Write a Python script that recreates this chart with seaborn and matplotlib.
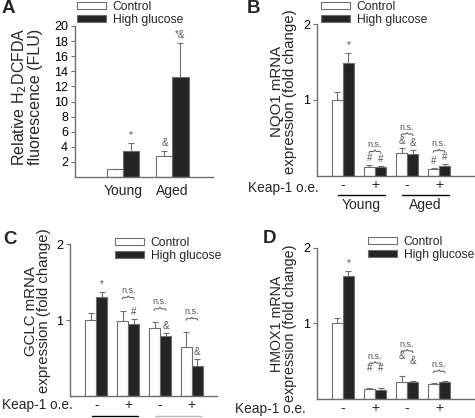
import numpy as np
import pandas as pd
import matplotlib
matplotlib.use("Agg")
import matplotlib.pyplot as plt
import seaborn as sns

# ---- data ----
treatments = ["Control", "High glucose"]

# A: H2DCFDA fluorescence
a_groups = ["Young", "Aged"]
a_control = [1.0, 2.82]
a_control_err = [0.12, 0.62]
a_glucose = [3.5, 13.3]
a_glucose_err = [1.05, 4.4]
a_ctrl_marks = ["", "&"]
a_hg_marks = ["*", "*&"]

# B/C/D: Keap-1 overexpression groups
groups = ["Young -", "Young +", "Aged -", "Aged +"]
keap_labels = ["-", "+", "-", "+"]

b_control = [1.0, 0.12, 0.30, 0.09]
b_control_err = [0.10, 0.02, 0.07, 0.01]
b_glucose = [1.49, 0.12, 0.28, 0.13]
b_glucose_err = [0.13, 0.01, 0.06, 0.02]
b_ctrl_marks = ["", "#", "&", "#"]
b_hg_marks = ["*", "#", "&", "#"]

c_control = [1.0, 0.99, 0.90, 0.65]
c_control_err = [0.10, 0.13, 0.07, 0.19]
c_glucose = [1.30, 0.95, 0.79, 0.39]
c_glucose_err = [0.07, 0.07, 0.04, 0.10]
c_ctrl_marks = ["", "", "", ""]
c_hg_marks = ["*", "#", "&", "&"]

d_control = [1.0, 0.13, 0.23, 0.20]
d_control_err = [0.07, 0.02, 0.08, 0.01]
d_glucose = [1.62, 0.12, 0.23, 0.22]
d_glucose_err = [0.07, 0.02, 0.01, 0.02]
d_ctrl_marks = ["", "#", "&", ""]
d_hg_marks = ["*", "#", "&", ""]

ns_flags = [False, True, True, True]

W, H = 475, 418
sns.set_style("ticks")
plt.rcParams["font.family"] = ["Liberation Sans", "DejaVu Sans"]

GRAY = "#6e6e6e"
DARK = "#242424"
ANN = "#555555"

fig = plt.figure(figsize=(W / 100, H / 100), dpi=100)


def px_axes(left, top, right, bottom):
    return fig.add_axes([left / W, 1 - bottom / H, (right - left) / W, (bottom - top) / H])


def px_to_data(ax, dx, dy):
    inv = ax.transData.inverted()
    x0, y0 = inv.transform((0, 0))
    x1, y1 = inv.transform((dx, dy))
    return x1 - x0, y1 - y0


def bar_panel(ax, cats, ctrl, ctrl_err, hg, hg_err, width, xlim, ylim, yticks):
    df = pd.DataFrame({
        "group": cats * 2,
        "treatment": [treatments[0]] * len(cats) + [treatments[1]] * len(cats),
        "value": list(ctrl) + list(hg),
    })
    sns.barplot(data=df, x="group", y="value", hue="treatment", order=cats,
                hue_order=treatments, palette={"Control": "white", "High glucose": DARK},
                edgecolor=GRAY, linewidth=0.8, width=width, errorbar=None, ax=ax)
    leg = ax.get_legend()
    handles = leg.legend_handles
    leg.remove()
    bars = list(ax.containers[:2])
    ax.set_xlim(*xlim)
    ax.set_ylim(*ylim)
    # error bars, upper half only
    for cont, errs in zip(bars, [ctrl_err, hg_err]):
        for bar, e in zip(cont, errs):
            x = bar.get_x() + bar.get_width() / 2
            top = bar.get_height()
            eb = ax.errorbar(x, top, yerr=[[0], [e]], color=GRAY, lw=0.8,
                             capsize=2.2, capthick=0.8, zorder=1)
            eb[1][0].set_visible(False)
    sns.despine(ax=ax)
    for s in ["left", "bottom"]:
        ax.spines[s].set_color(GRAY)
        ax.spines[s].set_linewidth(1.0)
    ax.set_yticks(yticks)
    ax.tick_params(axis="y", colors=GRAY, labelcolor="black", labelsize=9,
                   length=3, width=0.8, pad=2)
    ax.set_xlabel("")
    return handles, bars


def annotate(ax, bars, ctrl, ctrl_err, hg, hg_err, ctrl_marks, hg_marks, ns, mark_off, brace_gap):
    dx, dy = px_to_data(ax, 1, 1)
    tops = [[v + e for v, e in zip(ctrl, ctrl_err)], [v + e for v, e in zip(hg, hg_err)]]
    marks = [ctrl_marks, hg_marks]
    for k, cont in enumerate(bars):
        for i, bar in enumerate(cont):
            m = marks[k][i]
            if m:
                off = 3 if m.startswith("*") else mark_off
                ax.text(bar.get_x() + bar.get_width() / 2, tops[k][i] + off * dy, m,
                        ha="center", va="bottom", fontsize=7, color=ANN)
    for i, flag in enumerate(ns):
        if not flag:
            continue
        has_mark = bool(ctrl_marks[i] or hg_marks[i])
        base = max(tops[0][i], tops[1][i])
        yb = base + (brace_gap + (mark_off if has_mark else 0)) * dy
        hw = 6 * dx
        h = 3 * dy
        xs = np.array([-1, -0.85, -0.2, 0, 0.2, 0.85, 1]) * hw + i
        ys = np.array([0, 0.55, 0.55, 1, 0.55, 0.55, 0]) * h + yb
        ax.plot(xs, ys, color=ANN, lw=0.7)
        ax.text(i, yb + h + 1 * dy, "n.s.", ha="center", va="bottom",
                fontsize=6.5, color=ANN)


def keap_row(ax, axes_h_px, line_colors, group_text, line_px, text_px):
    ax.set_xticks(range(len(groups)))
    ax.set_xticklabels(keap_labels, fontsize=10)
    ax.tick_params(axis="x", length=0, pad=1.5)
    tr = ax.get_xaxis_transform()
    for j, col in enumerate(line_colors):
        x0, x1 = 2 * j - 0.15, 2 * j + 1.3
        ax.plot([x0, x1], [-line_px / axes_h_px] * 2, color=col, lw=1.0,
                transform=tr, clip_on=False)
        if group_text:
            ax.text((x0 + x1) / 2, -text_px / axes_h_px, group_text[j],
                    transform=tr, ha="center", va="center", fontsize=10)


def place_legend(ax, handles, x_px, y_px):
    ax.legend(handles, treatments, loc="upper left", bbox_to_anchor=(x_px / W, 1 - y_px / H),
              bbox_transform=fig.transFigure, frameon=False, fontsize=8.7,
              borderpad=0, borderaxespad=0, handlelength=2.4, handleheight=0.45,
              handletextpad=0.55, labelspacing=0.08)


# ---- Panel A ----
axA = px_axes(75, 26, 213, 177)
hA, bA = bar_panel(axA, a_groups, a_control, a_control_err, a_glucose, a_glucose_err,
                   0.65, (-0.97, 1.82), (0, 20), range(2, 21, 2))
axA.tick_params(axis="x", length=0, labelsize=10, pad=5)
axA.set_ylabel("Relative H$_2$DCFDA\nfluorescence (FLU)", fontsize=11.5, linespacing=0.9)
axA.yaxis.set_label_coords((43 - 75) / 138, 0.53)
annotate(axA, bA, a_control, a_control_err, a_glucose, a_glucose_err,
         a_ctrl_marks, a_hg_marks, [False, False], 3, 10)
place_legend(axA, hA, 77, 1)

# ---- Panel B ----
axB = px_axes(317, 24, 475, 175.7)
hB, bB = bar_panel(axB, groups, b_control, b_control_err, b_glucose, b_glucose_err,
                   0.69, (-0.81, 4.12), (0, 2), [1, 2])
axB.set_ylabel("NQO1 mRNA\nexpression (fold change)", fontsize=10.8, linespacing=0.88)
axB.yaxis.set_label_coords((297 - 317) / 158, 0.554)
annotate(axB, bB, b_control, b_control_err, b_glucose, b_glucose_err,
         b_ctrl_marks, b_hg_marks, ns_flags, 2, 10)
keap_row(axB, 151.7, ["black", "black"], a_groups, 19.5, 29)
place_legend(axB, hB, 321, 1)
fig.text(248 / W, 1 - 188 / H, "Keap-1 o.e.", ha="left", va="center", fontsize=9.8)

# ---- Panel C ----
axC = px_axes(70, 244.3, 217, 396)
hC, bC = bar_panel(axC, groups, c_control, c_control_err, c_glucose, c_glucose_err,
                   0.69, (-0.83, 3.79), (0, 2), [1, 2])
axC.set_ylabel("GCLC mRNA\nexpression (fold change)", fontsize=10.8, linespacing=0.88)
axC.yaxis.set_label_coords((51 - 70) / 147, 0.56)
annotate(axC, bC, c_control, c_control_err, c_glucose, c_glucose_err,
         c_ctrl_marks, c_hg_marks, ns_flags, 2, 10)
keap_row(axC, 151.7, ["black", "#bbbbbb"], None, 20, 30)
place_legend(axC, hC, 115, 237)
fig.text(2 / W, 1 - 405 / H, "Keap-1 o.e.", ha="left", va="center", fontsize=9.8)

# ---- Panel D ----
axD = px_axes(317, 247.7, 475, 399)
hD, bD = bar_panel(axD, groups, d_control, d_control_err, d_glucose, d_glucose_err,
                   0.69, (-0.81, 4.12), (0, 2), [1, 2])
axD.set_ylabel("HMOX1 mRNA\nexpression (fold change)", fontsize=10.3, linespacing=0.9)
axD.yaxis.set_label_coords((297 - 317) / 158, 0.5)
annotate(axD, bD, d_control, d_control_err, d_glucose, d_glucose_err,
         d_ctrl_marks, d_hg_marks, ns_flags, 15, 8)
keap_row(axD, 151.3, [], None, 20, 30)
place_legend(axD, hD, 368, 236)
fig.text(235 / W, 1 - 409 / H, "Keap-1 o.e.", ha="left", va="center", fontsize=9.8)

# panel letters
for lbl, x, y in [("A", 2, 0), ("B", 247, 0), ("C", 3, 231), ("D", 263, 230)]:
    fig.text(x / W, 1 - y / H, lbl, ha="left", va="top", fontsize=13.5, fontweight="bold")

fig.savefig("out.png", dpi=100)
